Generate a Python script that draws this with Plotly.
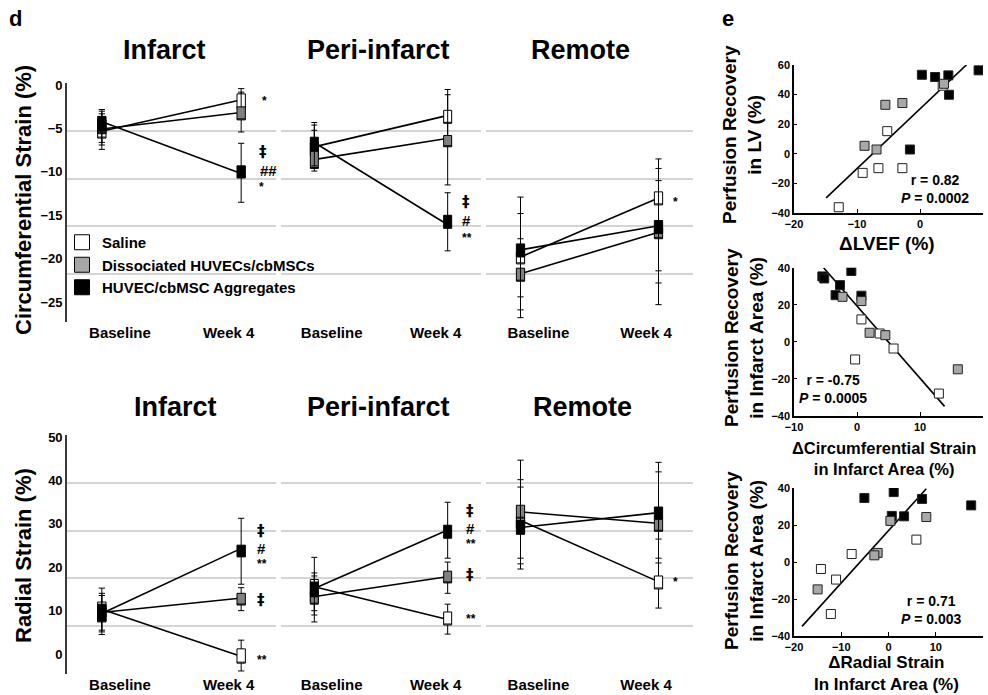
import plotly.graph_objects as go

W, H = 988, 695
FONT = "Liberation Sans, Arial, sans-serif"

# ---------------- data ----------------
groups = ["Saline", "Dissociated HUVECs/cbMSCs", "HUVEC/cbMSC Aggregates"]
box_colors = ["#ffffff", "#808080", "#000000"]
legend_colors = ["#ffffff", "#a6a6a6", "#000000"]
point_colors = ["#ffffff", "#a8a8a8", "#000000"]
time_labels = ["Baseline", "Week 4"]
regions = ["Infarct", "Peri-infarct", "Remote"]

# Each list: [Saline, Dissociated, Aggregates]; each entry [Baseline, Week 4]
# Circumferential strain (%)
circ_infarct_mean = [[-5.2, -1.8], [-5.0, -3.2], [-4.4, -10.0]]
circ_infarct_box_lo = [[-6.1, -2.7], [-5.6, -4.0], [-5.3, -10.7]]
circ_infarct_box_hi = [[-4.0, -1.0], [-4.3, -2.5], [-3.6, -9.3]]
circ_infarct_wlo = [[-6.6, -3.6], [-6.9, -5.4], [-7.4, -13.5]]
circ_infarct_whi = [[-3.0, -0.4], [-3.3, -0.8], [-2.8, -6.7]]

circ_peri_mean = [[-7.0, -3.6], [-8.5, -6.2], [-6.9, -15.8]]
circ_peri_box_lo = [[-8.1, -4.4], [-9.6, -7.1], [-7.6, -16.5]]
circ_peri_box_hi = [[-6.6, -2.9], [-7.6, -5.8], [-6.0, -15.0]]
circ_peri_wlo = [[-9.0, -6.5], [-9.9, -11.5], [-9.3, -19.1]]
circ_peri_whi = [[-4.3, -0.5], [-5.2, -1.1], [-4.6, -12.4]]

circ_remote_mean = [[-19.6, -13.2], [-21.6, -17.1], [-18.9, -16.3]]
circ_remote_box_lo = [[-20.6, -13.8], [-22.6, -17.7], [-19.8, -17.1]]
circ_remote_box_hi = [[-19.2, -12.3], [-21.1, -16.5], [-18.3, -15.6]]
circ_remote_wlo = [[-26.8, -21.4], [-25.9, -25.3], [-24.4, -22.8]]
circ_remote_whi = [[-12.9, -8.5], [-17.7, -9.6], [-14.8, -11.0]]

# Radial strain (%)
rad_infarct_mean = [[10.0, -0.2], [9.7, 12.8], [9.8, 23.9]]
rad_infarct_box_lo = [[7.4, -2.1], [8.5, 11.3], [7.6, 22.4]]
rad_infarct_box_hi = [[12.0, 1.2], [11.0, 14.0], [11.5, 25.1]]
rad_infarct_wlo = [[4.5, -3.9], [5.1, 10.0], [5.5, 16.1]]
rad_infarct_whi = [[15.2, 3.2], [14.0, 15.3], [13.5, 31.3]]

rad_peri_mean = [[15.3, 8.2], [13.4, 17.7], [15.5, 28.2]]
rad_peri_box_lo = [[12.0, 6.7], [11.5, 16.4], [13.2, 26.7]]
rad_peri_box_hi = [[17.2, 9.7], [14.5, 19.1], [16.6, 29.7]]
rad_peri_wlo = [[7.4, 4.6], [9.0, 14.0], [10.0, 22.1]]
rad_peri_whi = [[22.3, 11.5], [18.7, 21.2], [18.0, 35.0]]

rad_remote_mean = [[30.4, 17.1], [32.7, 30.2], [29.3, 32.5]]
rad_remote_box_lo = [[29.0, 15.0], [31.3, 28.3], [27.6, 31.1]]
rad_remote_box_hi = [[31.5, 18.0], [34.3, 31.1], [30.9, 33.9]]
rad_remote_wlo = [[20.8, 10.6], [22.1, 21.0], [19.6, 22.1]]
rad_remote_whi = [[38.5, 26.5], [44.7, 44.2], [40.2, 42.0]]

circ_ticks = [0, -5, -10, -15, -20, -25]
rad_ticks = [0, 10, 20, 30, 40, 50]

# significance marks: (panel number 1-6, x position in category units, y value, text)
sig_marks = [
    (1, 1.14, -1.8, "*"), (1, 1.12, -7.7, "‡"), (1, 1.13, -9.8, "##"), (1, 1.12, -11.7, "*"),
    (2, 1.10, -13.5, "‡"), (2, 1.10, -15.6, "#"), (2, 1.10, -17.6, "**"),
    (3, 1.10, -13.5, "*"),
    (4, 1.11, 28.3, "‡"), (4, 1.11, 24.4, "#"), (4, 1.11, 20.7, "**"), (4, 1.11, 12.4, "‡"), (4, 1.11, -1.3, "**"),
    (5, 1.13, 32.9, "‡"), (5, 1.13, 29.0, "#"), (5, 1.13, 25.3, "**"), (5, 1.13, 18.2, "‡"), (5, 1.13, 8.0, "**"),
    (6, 1.10, 16.5, "*"),
]

# Panel e scatter data
lvef_saline_x = [-5.2, -9.1, -6.6, -2.8, -12.9, 3.6]
lvef_saline_y = [15.3, -12.9, -9.7, -9.7, -36.1, 46.0]
lvef_dissoc_x = [-5.5, -2.8, 3.8, -8.8, -6.9]
lvef_dissoc_y = [33.1, 34.3, 47.3, 5.4, 2.9]
lvef_aggr_x = [0.3, 2.4, 4.5, 4.6, 9.3, -1.6]
lvef_aggr_y = [53.4, 51.9, 53.0, 39.9, 56.4, 2.9]
lvef_fit_x = [-14.9, 7.4]
lvef_fit_y = [-29.8, 60.2]

dcirc_saline_x = [0.7, 3.6, 5.8, -0.3, 13.0]
dcirc_saline_y = [12.1, 4.5, -3.6, -9.5, -27.9]
dcirc_dissoc_x = [-2.3, 0.7, 2.0, 4.5, 16.0]
dcirc_dissoc_y = [24.3, 22.0, 4.9, 3.6, -14.8]
dcirc_aggr_x = [-5.5, -5.2, -0.9, -2.7, -3.4, 0.7]
dcirc_aggr_y = [35.3, 34.2, 38.2, 30.6, 25.2, 24.9]
dcirc_fit_x = [-5.3, 13.9]
dcirc_fit_y = [40.0, -34.8]

drad_saline_x = [5.9, -7.8, -14.3, -11.1, -12.2]
drad_saline_y = [12.1, 4.3, -3.8, -9.5, -28.1]
drad_dissoc_x = [0.4, 8.0, -2.3, -3.0, -15.0]
drad_dissoc_y = [22.2, 24.3, 4.9, 3.6, -14.8]
drad_aggr_x = [-5.1, 1.1, 0.7, 3.3, 7.1, 17.5]
drad_aggr_y = [34.6, 37.8, 24.9, 24.7, 34.1, 30.6]
drad_fit_x = [-18.3, 8.0]
drad_fit_y = [-34.8, 39.6]

stats_text = ["r = 0.82<br><i>P</i> = 0.0002", "r = -0.75<br><i>P</i> = 0.0005", "r = 0.71<br><i>P</i> = 0.003"]

# ---------------- layout helpers ----------------
def px(x):
    return x / W

def py(y):
    return 1 - y / H

def nm(prefix, n):
    return prefix if n == 1 else f"{prefix}{n}"

def rf(letter, n):
    return letter if n == 1 else f"{letter}{n}"

BOX_W = 0.06
HW = BOX_W / 2

strain_panels = [
    (circ_infarct_mean, circ_infarct_box_lo, circ_infarct_box_hi, circ_infarct_wlo, circ_infarct_whi),
    (circ_peri_mean, circ_peri_box_lo, circ_peri_box_hi, circ_peri_wlo, circ_peri_whi),
    (circ_remote_mean, circ_remote_box_lo, circ_remote_box_hi, circ_remote_wlo, circ_remote_whi),
    (rad_infarct_mean, rad_infarct_box_lo, rad_infarct_box_hi, rad_infarct_wlo, rad_infarct_whi),
    (rad_peri_mean, rad_peri_box_lo, rad_peri_box_hi, rad_peri_wlo, rad_peri_whi),
    (rad_remote_mean, rad_remote_box_lo, rad_remote_box_hi, rad_remote_wlo, rad_remote_whi),
]

col_px = [(67, 276), (281, 481), (486, 693)]
row_px = [(83, 322), (435, 674)]
row_range = [[-27.3, 0.25], [-4.6, 50.5]]
row_ticks = [circ_ticks, rad_ticks]

fig = go.Figure()
layout = dict(
    width=W, height=H, margin=dict(l=0, r=0, t=0, b=0, autoexpand=False),
    paper_bgcolor="white", plot_bgcolor="rgba(0,0,0,0)",
    font=dict(family=FONT, color="black"),
    boxmode="overlay", showlegend=True,
)

bold = dict(family=FONT, color="black", weight="bold")

for k in range(1, 7):
    row = 0 if k <= 3 else 1
    col = (k - 1) % 3
    xr, yr, gr = rf("x", k), rf("y", k), rf("y", k + 6)
    mean, blo, bhi, wlo, whi = strain_panels[k - 1]
    # gridline helper axis subplot
    fig.add_trace(go.Scatter(x=[None], y=[None], xaxis=xr, yaxis=gr, showlegend=False, hoverinfo="skip"))
    # connecting lines
    for g in range(3):
        fig.add_trace(go.Scatter(
            x=[HW, 1 - HW], y=mean[g], mode="lines", line=dict(color="black", width=1.6),
            xaxis=xr, yaxis=yr, showlegend=False, hoverinfo="skip"))
    # boxes
    for g in range(3):
        fig.add_trace(go.Box(
            x=[0, 1], q1=blo[g], q3=bhi[g], median=blo[g],
            lowerfence=wlo[g], upperfence=whi[g],
            width=BOX_W, whiskerwidth=0.75, fillcolor=box_colors[g],
            line=dict(color="black", width=1), boxpoints=False,
            xaxis=xr, yaxis=yr, showlegend=False, hoverinfo="skip"))
    x0, x1 = col_px[col]
    y0, y1 = row_px[row]
    layout[nm("xaxis", k)] = dict(
        domain=[px(x0), px(x1)], anchor=yr, range=[-0.25, 1.25],
        tickvals=[0.13, 0.91], ticktext=time_labels, ticks="",
        showline=False, showgrid=False, zeroline=False,
        tickfont=dict(size=15, **bold))
    ydict = dict(domain=[py(y1), py(y0)], anchor=xr, range=row_range[row],
                 showgrid=False, zeroline=False)
    if col == 0:
        ydict.update(showline=True, linecolor="#3a3a3a", linewidth=1.6, ticks="",
                     tickvals=row_ticks[row], tickfont=dict(size=13, **bold))
    else:
        ydict.update(visible=False)
    layout[nm("yaxis", k)] = ydict
    layout[nm("yaxis", k + 6)] = dict(
        overlaying=yr, anchor=xr, range=[0, 5], tickvals=[0, 1, 2, 3, 4, 5],
        showgrid=True, gridcolor="#d4d4d4", gridwidth=1.5, zeroline=False,
        showline=False, showticklabels=False, ticks="")

# legend entries
for g in range(3):
    fig.add_trace(go.Scatter(
        x=[None], y=[None], mode="markers", name=groups[g],
        marker=dict(symbol="square", size=15, color=legend_colors[g],
                    line=dict(color="black", width=1)),
        xaxis="x", yaxis="y", hoverinfo="skip"))

layout["legend"] = dict(
    x=px(62), y=py(226), xanchor="left", yanchor="top",
    bgcolor="rgba(0,0,0,0)", font=dict(size=15, **bold),
    tracegroupgap=0, itemwidth=30)

# scatter panels
scatter_sets = [
    ([(lvef_aggr_x, lvef_aggr_y, 2), (lvef_saline_x, lvef_saline_y, 0), (lvef_dissoc_x, lvef_dissoc_y, 1)],
     lvef_fit_x, lvef_fit_y, [-20, 10], [-40, 60], [-20, -10, 0, 10], [-40, -20, 0, 20, 40, 60], (65, 213)),
    ([(dcirc_aggr_x, dcirc_aggr_y, 2), (dcirc_saline_x, dcirc_saline_y, 0), (dcirc_dissoc_x, dcirc_dissoc_y, 1)],
     dcirc_fit_x, dcirc_fit_y, [-10, 20], [-40, 40], [-10, 0, 10, 20], [-40, -20, 0, 20, 40], (267.7, 416)),
    ([(drad_aggr_x, drad_aggr_y, 2), (drad_saline_x, drad_saline_y, 0), (drad_dissoc_x, drad_dissoc_y, 1)],
     drad_fit_x, drad_fit_y, [-20, 20], [-40, 40], [-20, -10, 0, 10, 20], [-40, -20, 0, 20, 40], (488, 636)),
]

for i, (pts, fx, fy, xrange_, yrange_, xt, yt, (ytop, ybot)) in enumerate(scatter_sets):
    xn = 7 + i
    yn = 13 + i
    xr, yr = rf("x", xn), rf("y", yn)
    fig.add_trace(go.Scatter(x=fx, y=fy, mode="lines", line=dict(color="black", width=1.6),
                             xaxis=xr, yaxis=yr, showlegend=False, hoverinfo="skip"))
    for xs, ys, g in pts:
        fig.add_trace(go.Scatter(
            x=xs, y=ys, mode="markers", xaxis=xr, yaxis=yr, showlegend=False, hoverinfo="skip",
            marker=dict(symbol="square", size=9, color=point_colors[g],
                        line=dict(color="#222222", width=1))))
    layout[nm("xaxis", xn)] = dict(
        domain=[px(794), px(983)], anchor=yr, range=xrange_, tickvals=xt,
        showline=True, linecolor="black", linewidth=1.5, ticks="inside", ticklen=4,
        tickcolor="black", showgrid=False, zeroline=False,
        tickfont=dict(size=11, **bold))
    layout[nm("yaxis", yn)] = dict(
        domain=[py(ybot), py(ytop)], anchor=xr, range=yrange_, tickvals=yt,
        showline=True, linecolor="black", linewidth=1.5, ticks="inside", ticklen=3,
        tickcolor="black", showgrid=False, zeroline=False,
        tickfont=dict(size=11, **bold))

# annotations
ann = []

def text_ann(x, y, text, size, angle=0, xref="paper", yref="paper", family=FONT):
    ann.append(dict(x=x, y=y, xref=xref, yref=yref, text=text, showarrow=False,
                    textangle=angle, xanchor="center", yanchor="middle",
                    font=dict(size=size, family=family, color="black", weight="bold")))

text_ann(px(15), py(18), "d", 22)
text_ann(px(728), py(18), "e", 22)

top_title_x = [164, 378, 580]
bot_title_x = [175, 378, 582]
for i, r in enumerate(regions):
    text_ann(px(top_title_x[i]), py(50), r, 27)
    text_ann(px(bot_title_x[i]), py(407), r, 27)

text_ann(px(23), py(200), "Circumferential Strain (%)", 22, angle=-90)
text_ann(px(23), py(556), "Radial Strain (%)", 22, angle=-90)

for (k, xv, yv, t) in sig_marks:
    size = 12 if "*" in t else 15
    fam = "DejaVu Sans, Liberation Sans, sans-serif" if t == "‡" else FONT
    ann.append(dict(x=xv, y=yv, xref=rf("x", k), yref=rf("y", k), text=t, showarrow=False,
                    xanchor="left", yanchor="middle", borderpad=0,
                    font=dict(size=size, family=fam, color="black", weight="bold")))

# panel e titles
text_ann(px(742), py(135), "Perfusion Recovery<br>in LV (%)", 19, angle=-90)
text_ann(px(887), py(243), "ΔLVEF (%)", 19)
text_ann(px(744), py(338), "Perfusion Recovery<br>in Infarct Area (%)", 19, angle=-90)
text_ann(px(884), py(458), "ΔCircumferential Strain<br>in Infarct Area (%)", 16.5)
text_ann(px(744), py(561), "Perfusion Recovery<br>in Infarct Area (%)", 19, angle=-90)
text_ann(px(886), py(673), "ΔRadial Strain<br>In Infarct Area (%)", 17)

stat_pos = [(935, 189), (833, 389), (931, 610)]
for (sx, sy), t in zip(stat_pos, stats_text):
    text_ann(px(sx), py(sy), t, 14)

layout["annotations"] = ann
fig.update_layout(**layout)
fig.write_html("out.html", config={"displayModeBar": False},
               post_script="document.body.style.margin='0';document.body.style.overflow='hidden';")
